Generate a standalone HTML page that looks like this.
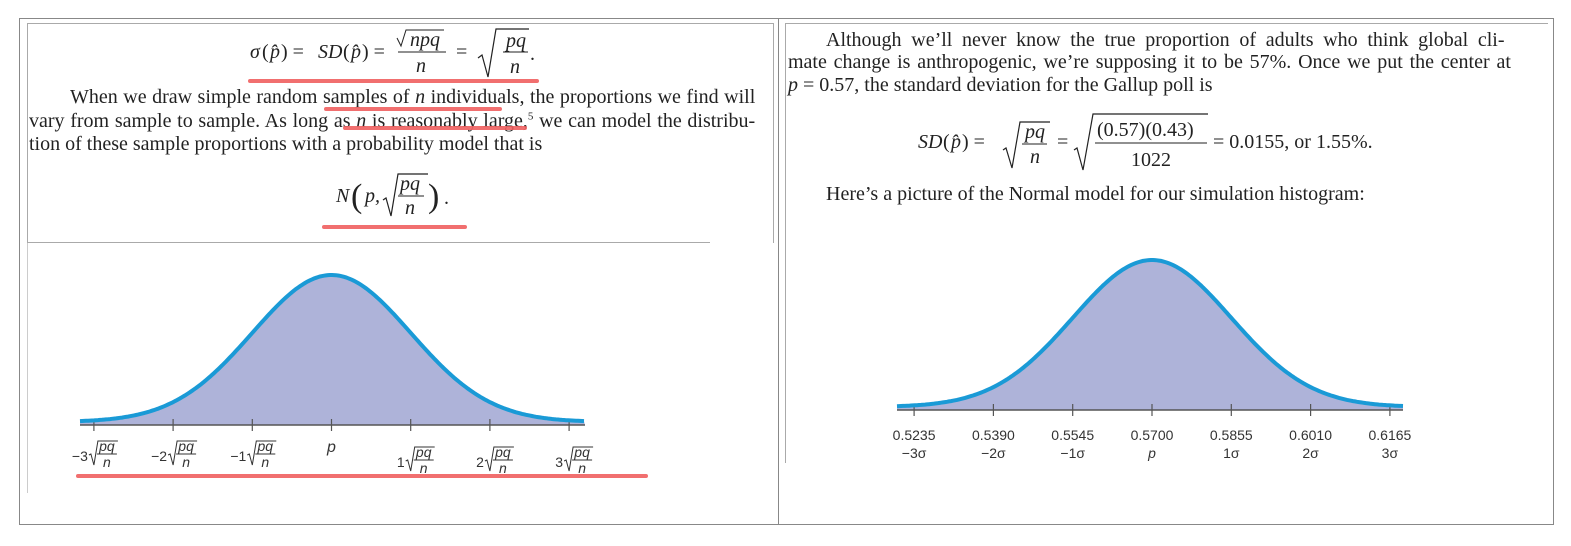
<!DOCTYPE html>
<html><head><meta charset="utf-8">
<style>
body{margin:0;background:#fff;width:1571px;height:546px;overflow:hidden;position:relative;font-family:"Liberation Serif",serif;color:#222}
.abs{position:absolute}
.t{font-size:20px;white-space:nowrap;position:absolute;line-height:22px}
.t sup{line-height:0;font-size:11px}
.ch text{font-family:"Liberation Sans",sans-serif}
</style></head><body>
<div class="abs" style="left:19px;top:18px;width:1535px;height:507px;border:1px solid #888;box-sizing:border-box"></div>
<div class="abs" style="left:778px;top:18px;width:1px;height:507px;background:#888"></div>
<div class="abs" style="left:27px;top:23px;width:747px;height:220px;border-top:1px solid #aaa;border-left:1px solid #aaa;border-right:1px solid #aaa;box-sizing:border-box"></div>
<div class="abs" style="left:27px;top:242px;width:683px;height:1px;background:#aaa"></div>
<div class="abs" style="left:27px;top:243px;width:1px;height:250px;background:#ccc"></div>
<div class="abs" style="left:785px;top:23px;width:763px;height:440px;border-top:1px solid #aaa;border-left:1px solid #aaa;box-sizing:border-box"></div>

<div class="t" style="left:70px;top:86px;word-spacing:0.5px">When we draw simple random samples of <i>n</i> individuals, the proportions we find will</div>
<div class="t" style="left:29px;top:110px;word-spacing:0.7px">vary from sample to sample. As long as <i>n</i> is reasonably large,<sup>5</sup> we can model the distribu-</div>
<div class="t" style="left:29px;top:133px">tion of these sample proportions with a probability model that is</div>
<div class="t" style="left:826px;top:29px;word-spacing:4.7px">Although we’ll never know the true proportion of adults who think global cli-</div>
<div class="t" style="left:788px;top:51px;word-spacing:1.8px">mate change is anthropogenic, we’re supposing it to be 57%. Once we put the center at</div>
<div class="t" style="left:788px;top:74px"><i>p</i> = 0.57, the standard deviation for the Gallup poll is</div>
<div class="t" style="left:826px;top:183px">Here’s a picture of the Normal model for our simulation histogram:</div>

<svg class="abs" style="left:0;top:0" width="1571" height="546">
<g font-family="Liberation Serif" font-size="20" fill="#222">
<text x="250" y="58" font-style="italic">σ</text><text x="262" y="58">(</text><text x="270" y="58" font-style="italic">p̂</text><text x="281" y="58">) =</text>
<text x="318" y="58" font-style="italic">SD</text><text x="343" y="58">(</text><text x="351" y="58" font-style="italic">p̂</text><text x="362" y="58">) =</text>
<text x="410" y="46" font-style="italic">npq</text><path d="M397 38 l4 8 l5 -16 h38" stroke="#222" fill="none"/><line x1="398" y1="52" x2="446" y2="52" stroke="#222"/><text x="416" y="72" font-style="italic">n</text>
<text x="456" y="58">=</text>
<path d="M478 58 l4 -3 l6 22 l8 -48 h33" stroke="#222" fill="none" stroke-width="1.2"/>
<text x="506" y="47" font-style="italic">pq</text><line x1="503" y1="52" x2="528" y2="52" stroke="#222"/><text x="510" y="73" font-style="italic">n</text><text x="530" y="60">.</text>
</g>
<g font-family="Liberation Serif" font-size="20" fill="#222">
<text x="336" y="202" font-style="italic">N</text><text x="351" y="207" font-size="34">(</text><text x="365" y="202" font-style="italic">p,</text>
<path d="M383 200 l3 -2 l5 18 l7 -42 h30" stroke="#222" fill="none" stroke-width="1.2"/>
<text x="400" y="190" font-style="italic">pq</text><line x1="398" y1="196" x2="424" y2="196" stroke="#222"/><text x="405" y="214" font-style="italic">n</text>
<text x="428" y="207" font-size="34">)</text><text x="444" y="204">.</text>
</g>
<g font-family="Liberation Serif" font-size="20" fill="#222">
<text x="918" y="148" font-style="italic">SD</text><text x="943" y="148">(</text><text x="951" y="148" font-style="italic">p̂</text><text x="962" y="148">) =</text>
<path d="M1003 150 l3 -2 l6 20 l8 -46 h30" stroke="#222" fill="none" stroke-width="1.2"/>
<text x="1025" y="138" font-style="italic">pq</text><line x1="1022" y1="144" x2="1047" y2="144" stroke="#222"/><text x="1030" y="163" font-style="italic">n</text>
<text x="1057" y="148">=</text>
<path d="M1074 150 l3 -2 l6 22 l10 -56 h115" stroke="#222" fill="none" stroke-width="1.2"/>
<text x="1097" y="136">(0.57)(0.43)</text><line x1="1095" y1="143" x2="1207" y2="143" stroke="#222"/><text x="1131" y="166">1022</text>
<text x="1213" y="148">= 0.0155, or 1.55%.</text>
</g>
<g stroke="#f06060" stroke-width="4" stroke-linecap="round" opacity="0.9">
<line x1="250" y1="81" x2="537" y2="81"/><line x1="326" y1="109" x2="500" y2="109"/><line x1="345" y1="128" x2="525" y2="128"/>
<line x1="324" y1="227" x2="465" y2="227"/><line x1="78" y1="476" x2="646" y2="476"/>
</g>
<g id="chartL" class="ch"></g>
<g id="chartR" class="ch"></g>
</svg>

<script>
const sigmaMultiples=[-3,-2,-1,0,1,2,3];
const leftCoefLabels=["−3","−2","−1","p","1","2","3"];
const rightValueLabels=["0.5235","0.5390","0.5545","0.5700","0.5855","0.6010","0.6165"];
const rightSigmaLabels=["−3σ","−2σ","−1σ","p","1σ","2σ","3σ"];
const curveMean=[0];
const curveSD=[1];
const NS="http://www.w3.org/2000/svg";
function mk(tag,attrs,parent){const e=document.createElementNS(NS,tag);for(const k in attrs)e.setAttribute(k,attrs[k]);parent.appendChild(e);return e;}
function drawChart(g,cx,step,axisY,peakY,x0,x1){
  const xs=v=>cx+v*step;
  const pdf=z=>Math.exp(-0.5*((z-curveMean[0])/curveSD[0])**2);
  const ys=d=>axisY-3-d*(axisY-3-peakY);
  let pts=[];
  for(let px=x0;px<=x1;px+=2){const z=(px-cx)/step;pts.push([px,ys(pdf(z))]);}
  const area=mk('path',{d:'M'+x0+' '+axisY+' L'+pts.map(p=>p[0]+' '+p[1].toFixed(1)).join(' L')+' L'+x1+' '+axisY+'Z',fill:'#aeb3d9'},g);
  
  
  const ax=mk('line',{x1:x0,x2:x1,y1:axisY,y2:axisY,stroke:'#555','stroke-width':1.5},g);
  
  
  sigmaMultiples.forEach(m=>{
    const t=mk('line',{x1:xs(m),x2:xs(m),y1:axisY-6,y2:axisY+6,stroke:'#555','stroke-width':1.2},g);
    
    
  });
  const c=mk('path',{d:'M'+pts.map(p=>p[0]+' '+p[1].toFixed(1)).join(' L'),fill:'none',stroke:'#1a9ad6','stroke-width':4},g);
  
  
  return xs;
}
const gL=document.getElementById('chartL');
const xsL=drawChart(gL,331.5,79.2,425,275,80,585);
sigmaMultiples.forEach((m,i)=>{
  const x=xsL(m);
  if(leftCoefLabels[i]==='p'){
    const t=mk('text',{x:x,y:452,'text-anchor':'middle','font-size':16,'font-style':'italic',fill:'#333'},gL);t.textContent='p';
    
    
    return;
  }
  const dy=m>0?6:0;
  const gg=mk('g',{},gL);
  
  
  const t=mk('text',{x:x-6,y:461+dy,'text-anchor':'end','font-size':14,fill:'#333'},gg);t.textContent=leftCoefLabels[i];
  mk('path',{d:`M${x-5} ${455+dy} l2 -1 l3 11 l4 -24 h20`,stroke:'#333',fill:'none','stroke-width':1},gg);
  const a=mk('text',{x:x+13,y:451+dy,'text-anchor':'middle','font-size':14,'font-style':'italic',fill:'#333'},gg);a.textContent='pq';
  mk('line',{x1:x+3,x2:x+23,y1:454+dy,y2:454+dy,stroke:'#333'},gg);
  const b=mk('text',{x:x+13,y:467+dy,'text-anchor':'middle','font-size':14,'font-style':'italic',fill:'#333'},gg);b.textContent='n';
});
const gR=document.getElementById('chartR');
const xsR=drawChart(gR,1152,79.3,410,260,897,1403);
sigmaMultiples.forEach((m,i)=>{
  const x=xsR(m);
  const t=mk('text',{x:x,y:440,'text-anchor':'middle','font-size':14,fill:'#333'},gR);t.textContent=rightValueLabels[i];
  
  
  const s=mk('text',{x:x,y:458,'text-anchor':'middle','font-size':14,fill:'#333','font-style':i===3?'italic':'normal'},gR);s.textContent=rightSigmaLabels[i];
  
  
});
</script>
</body></html>
